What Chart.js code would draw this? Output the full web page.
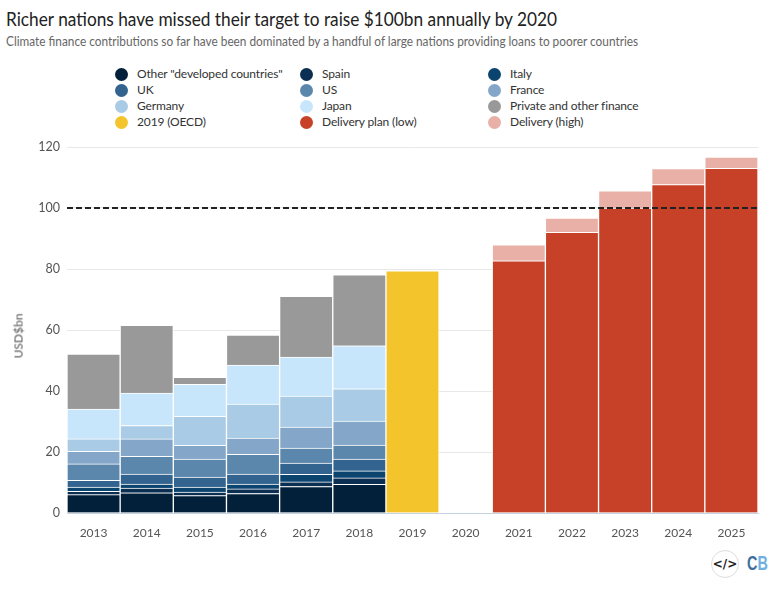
<!DOCTYPE html>
<html>
<head>
<meta charset="utf-8">
<script src="https://cdn.jsdelivr.net/npm/chart.js@4/dist/chart.umd.min.js"></script>
<style>
  html, body { margin: 0; padding: 0; background: #fff; }
  body { width: 780px; height: 595px; position: relative; overflow: hidden; font-family: Lato, sans-serif; }
  #title { position: absolute; left: 6px; top: 7px; font-size: 19.5px; color: #222; white-space: nowrap; transform: scaleX(.885); transform-origin: left top; }
  #subtitle { position: absolute; left: 6px; top: 34px; font-size: 12.5px; color: #666; white-space: nowrap; transform: scaleX(.946); transform-origin: left top; }
  #legend { position: absolute; left: 115px; top: 66px; }
  .item { position: absolute; white-space: nowrap; font-size: 12px; letter-spacing: -0.14px; color: #333; line-height: 16px; padding-left: 22px; }
  .item i { position: absolute; left: 0; top: 1.5px; width: 13px; height: 13px; border-radius: 50%; }
  #wrap { position: absolute; left: 0; top: 130px; width: 780px; height: 420px; }
  #ytitle { position: absolute; left: 18px; top: 336px; font-size: 12px; color: #555; white-space: nowrap; transform: translate(-50%, -50%) rotate(-90deg); }
  #embed { position: absolute; left: 711px; top: 550px; width: 26px; height: 26px; border: 1px solid #ddd; border-radius: 50%;
           font: bold 12px "DejaVu Sans", sans-serif; color: #222; text-align: center; line-height: 26px; }
  #cb { position: absolute; left: 747px; top: 551px; font: bold 20px "Liberation Sans", sans-serif; line-height: 24px; white-space: nowrap; transform: scaleX(.72); transform-origin: left top; }
</style>
</head>
<body>
<div id="title">Richer nations have missed their target to raise $100bn annually by 2020</div>
<div id="subtitle">Climate finance contributions so far have been dominated by a handful of large nations providing loans to poorer countries</div>
<div id="legend"></div>
<div id="wrap"><canvas id="chart"></canvas></div>
<div id="ytitle">USD$bn</div>
<div id="embed">&lt;/&gt;</div>
<div id="cb"><span style="color:#3d6f9e">C</span><span style="color:#6fb0e0">B</span></div>

<script>
const years = ['2013','2014','2015','2016','2017','2018','2019','2020','2021','2022','2023','2024','2025'];
const yTicks = [0, 20, 40, 60, 80, 100, 120];
const target = [100, 100];

// USD bn
const other   = [6.0, 6.6, 5.7, 6.4, 8.7, 9.4];
const spain   = [1.1, 1.6, 1.2, 1.5, 1.5, 2.1];
const italy   = [1.4, 1.3, 1.6, 1.6, 2.5, 2.3];
const uk      = [2.2, 3.3, 3.3, 3.3, 3.7, 3.9];
const us      = [5.4, 5.8, 5.9, 6.4, 4.9, 4.6];
const france  = [4.1, 5.7, 4.5, 5.4, 6.9, 7.8];
const germany = [4.1, 4.4, 9.5, 11.1, 10.1, 10.6];
const japan   = [9.8, 10.6, 10.5, 12.8, 12.8, 14.1];
const privateFinance = [18.0, 22.2, 2.3, 9.8, 19.9, 23.3];
const oecd2019 = [null, null, null, null, null, null, 79.4];
const deliveryLow  = [null, null, null, null, null, null, null, null, 82.7, 92, 100, 107.7, 113];
const deliveryHigh = [null, null, null, null, null, null, null, null, 5.2, 4.7, 5.6, 5.2, 3.7];

const series = [
    { label: 'Other "developed countries"', data: other, color: '#03203a' },
    { label: 'Spain', data: spain, color: '#0a2f52' },
    { label: 'Italy', data: italy, color: '#0c4470' },
    { label: 'UK', data: uk, color: '#33648f' },
    { label: 'US', data: us, color: '#5c87ac' },
    { label: 'France', data: france, color: '#84a7c9' },
    { label: 'Germany', data: germany, color: '#a9cbe5' },
    { label: 'Japan', data: japan, color: '#c8e6fb' },
    { label: 'Private and other finance', data: privateFinance, color: '#999999' },
    { label: '2019 (OECD)', data: oecd2019, color: '#f3c42c' },
    { label: 'Delivery plan (low)', data: deliveryLow, color: '#c64127' },
    { label: 'Delivery (high)', data: deliveryHigh, color: '#e9b0a8' }
];

// 凡例は3列4行
const legendCols = [0, 185, 373];
const legendEl = document.getElementById('legend');
series.forEach((s, i) => {
    const el = document.createElement('div');
    el.className = 'item';
    el.style.left = legendCols[i % 3] + 'px';
    el.style.top = (Math.floor(i / 3) * 16) + 'px';
    el.innerHTML = '<i style="background:' + s.color + '"></i>';
    el.appendChild(document.createTextNode(s.label));
    legendEl.appendChild(el);
});

const datasets = series.map(s => ({
    type: 'bar',
    label: s.label,
    data: s.data,
    backgroundColor: s.color,
    borderColor: '#fff',
    borderWidth: 1,
    barPercentage: 1,
    categoryPercentage: 1,
    grouped: false,
    order: 2
}));
datasets.push({
    type: 'line',
    label: 'Target',
    data: target.map((v, i) => ({ x: i, y: v })),
    xAxisID: 'xTarget',
    borderColor: '#222',
    borderWidth: 2,
    borderDash: [6, 3],
    pointRadius: 0,
    order: 1
});

new Chart(document.getElementById('chart').getContext('2d'), {
    data: { labels: years, datasets: datasets },
    options: {
        responsive: true,
        maintainAspectRatio: false,
        animation: false,
        layout: { padding: { top: 17, right: 22, left: 0, bottom: 0 } },
        plugins: { legend: { display: false }, tooltip: { enabled: false } },
        scales: {
            x: {
                stacked: true,
                grid: { display: false },
                border: { color: '#c5d3e0' },
                ticks: { color: '#555', font: { family: 'Lato', size: 12 }, padding: 5, maxRotation: 0 },
                afterFit: scale => { scale.height = 37; }
            },
            xTarget: { type: 'linear', display: false, min: 0, max: 1 },
            y: {
                stacked: true,
                min: 0,
                max: 120,
                afterBuildTicks: scale => { scale.ticks = yTicks.map(v => ({ value: v })); },
                grid: { color: '#e8e8e8', drawTicks: false },
                border: { display: false },
                ticks: { color: '#555', font: { family: 'Lato', size: 12.5 }, padding: 7 },
                afterFit: scale => { scale.width = 67; }
            }
        }
    }
});
</script>
</body>
</html>
